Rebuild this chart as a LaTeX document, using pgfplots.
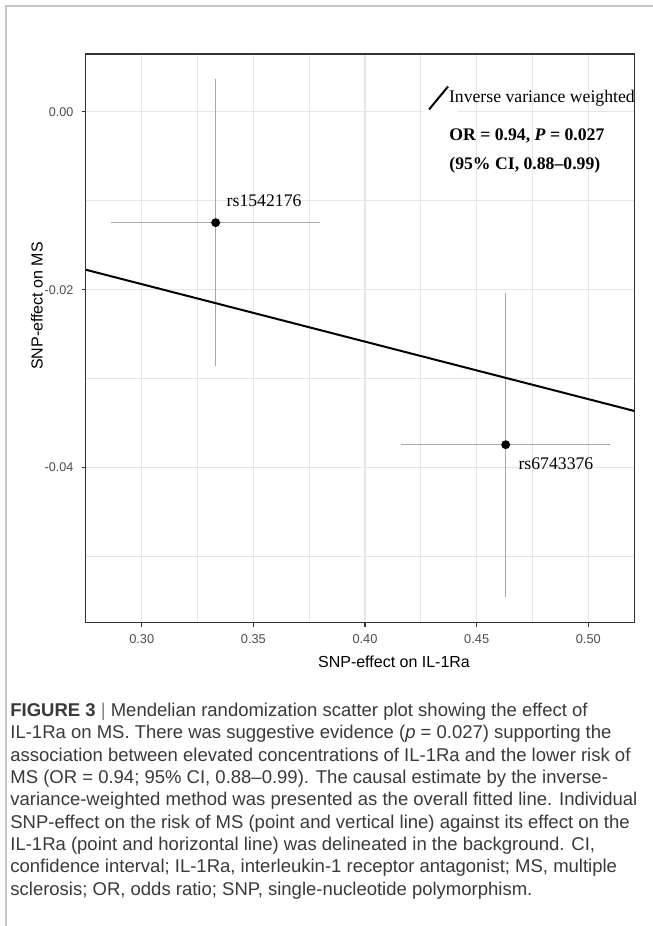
\documentclass[border=0pt]{standalone}
\usepackage{fontspec}
\setmainfont{Liberation Sans}
\newfontfamily\lsans{Liberation Sans}
\newfontfamily\lserif{Liberation Serif}
\usepackage{pgfplots}
\pgfplotsset{compat=1.18}

\definecolor{gray20}{HTML}{333333}
\definecolor{gray30}{HTML}{4D4D4D}
\definecolor{grid92}{HTML}{E6E6E6}
\definecolor{errgray}{HTML}{A8A8A8}
\definecolor{captxt}{HTML}{3A3A3A}

\newcommand{\capline}[2]{\node[anchor=base west, inner sep=0pt, text=captxt,
  font=\lsans\fontsize{9.25}{11}\selectfont] at (5pt,#1) {#2};}

\begin{document}
\begin{tikzpicture}
\useasboundingbox (0,0) rectangle (326.5pt,463pt);
\fill[white] (0,0) rectangle (326.5pt,463pt);
\draw[gray!45, line width=0.8pt] (3pt,0) -- (3pt,460pt) -- (326.5pt,460pt);

\begin{axis}[
  at={(42.85pt,151.65pt)}, anchor=south west,
  scale only axis, width=274.3pt, height=284.35pt,
  xmin=0.2749, xmax=0.5206, ymin=-0.05742, ymax=0.00648,
  scaled ticks=false,
  xtick={0.30,0.35,0.40,0.45,0.50},
  xticklabels={0.30,0.35,0.40,0.45,0.50},
  minor xtick={0.325,0.375,0.425,0.475},
  ytick={-0.04,-0.02,0},
  yticklabels={-0.04,-0.02,0.00},
  minor ytick={-0.05,-0.03,-0.01},
  grid=both,
  major grid style={grid92, line width=0.75pt},
  minor grid style={grid92, line width=0.6pt},
  tick pos=left, tick align=outside,
  major tick length=2pt, minor tick length=0pt,
  major tick style={gray20, line width=0.55pt},
  axis line style={gray20, line width=0.55pt},
  xticklabel style={font=\lsans\fontsize{6.4}{7}\selectfont, text=gray30,
    inner sep=0pt, anchor=base, yshift=-8.65pt},
  yticklabel style={font=\lsans\fontsize{6.3}{7}\selectfont, text=gray30,
    inner sep=0pt, anchor=east, xshift=-4pt},
  xlabel={SNP-effect on IL-1Ra},
  ylabel={SNP-effect on MS},
  label style={font=\lsans\fontsize{8}{9}\selectfont, text=black},
  xlabel style={at={(axis description cs:0.562,-0.0686)}, anchor=center},
  ylabel style={at={(axis description cs:-0.0888,0.557)}, anchor=center},
  clip mode=individual,
  legend style={at={(axis description cs:0.624,0.9226)}, anchor=west,
    draw=none, fill=none, inner sep=0pt, outer sep=0pt,
    font=\lserif\fontsize{8.85}{10}\selectfont,
    nodes={inner sep=0pt},
    /tikz/every even column/.append style={column sep=1.2pt}},
  legend image code/.code={
    \begin{pgfinterruptboundingbox}
      \fill[white] (-2.5pt,-8pt) rectangle (14pt,8pt);
    \end{pgfinterruptboundingbox}
    \draw[black, line width=1pt] (0pt,-5.75pt) -- (9.5pt,5.75pt);
  },
]

% SNP error bars (grey)
\addplot[only marks, mark=none, forget plot,
  error bars/.cd, x dir=both, x explicit, y dir=both, y explicit,
  error mark=none, error bar style={draw=errgray, line width=0.7pt, solid}]
  coordinates {
    (0.3331,-0.01247) +- (0.0467,0.0161)
    (0.4630,-0.03742) +- (0.0467,0.0171)
  };

% IVW fit
\addplot[black, line width=1pt, mark=none]
  coordinates {(0.25,-0.01615) (0.55,-0.03553)};
\addlegendentry{Inverse variance weighted}

% SNP points
\addplot[only marks, mark=*, mark size=0.6pt, black, forget plot]
  coordinates {(0.3331,-0.01247) (0.4630,-0.03742)};

\node[font=\lserif\fontsize{8.85}{10}\selectfont, inner sep=0pt]
  at (axis cs:0.3548,-0.0100) {rs1542176};
\node[font=\lserif\fontsize{8.85}{10}\selectfont, inner sep=0pt]
  at (axis cs:0.4855,-0.0396) {rs6743376};

\node[anchor=base west, inner sep=0pt, font=\lserif\bfseries\fontsize{8.85}{10}\selectfont]
  at (axis cs:0.4376,-0.00327) {OR = 0.94, \textit{P} = 0.027};
\node[anchor=base west, inner sep=0pt, font=\lserif\bfseries\fontsize{8.85}{10}\selectfont]
  at (axis cs:0.4376,-0.00653) {(95\% CI, 0.88–0.99)};
\end{axis}

\capline{104.7pt}{\textbf{FIGURE 3} \textcolor{gray}{|} Mendelian randomization scatter plot showing the effect of}
\capline{93.55pt}{IL-1Ra on MS. There was suggestive evidence (\textit{p} = 0.027) supporting the}
\capline{82.4pt}{association between elevated concentrations of IL-1Ra and the lower risk of}
\capline{71.25pt}{MS (OR = 0.94; 95\% CI, 0.88–0.99). The causal estimate by the inverse-}
\capline{60.1pt}{variance-weighted method was presented as the overall fitted line. Individual}
\capline{48.95pt}{SNP-effect on the risk of MS (point and vertical line) against its effect on the}
\capline{37.8pt}{IL-1Ra (point and horizontal line) was delineated in the background. CI,}
\capline{26.65pt}{confidence interval; IL-1Ra, interleukin-1 receptor antagonist; MS, multiple}
\capline{15.5pt}{sclerosis; OR, odds ratio; SNP, single-nucleotide polymorphism.}
\end{tikzpicture}
\end{document}
